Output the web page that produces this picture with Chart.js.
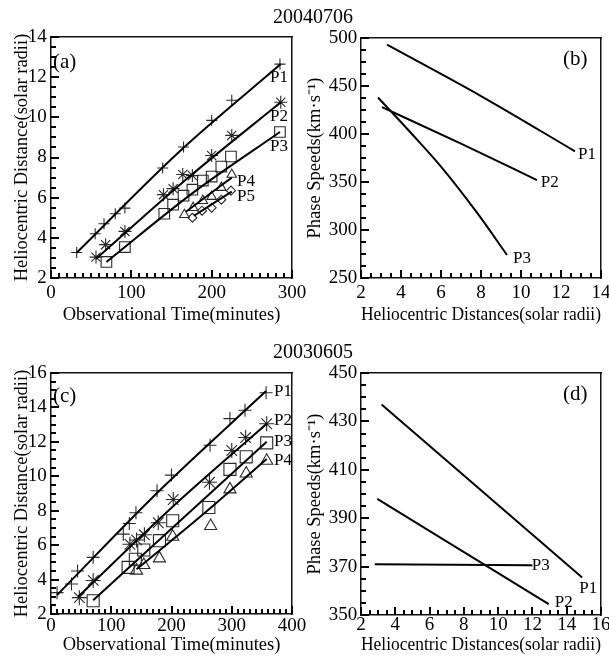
<!DOCTYPE html>
<html><head><meta charset="utf-8">
<script src="https://cdn.jsdelivr.net/npm/chart.js@4"></script>
<style>
html,body{margin:0;padding:0;background:#fff;}
#wrap{position:relative;width:609px;height:662px;overflow:hidden;font-family:"Liberation Serif","Times New Roman",serif;}
canvas{position:absolute;left:0;top:0;}
.t{position:absolute;white-space:nowrap;color:#000;line-height:1;}
</style></head><body>
<div id="wrap">
<canvas id="ca" width="609" height="662"></canvas>
<canvas id="cb" width="609" height="662"></canvas>
<canvas id="cc" width="609" height="662"></canvas>
<canvas id="cd" width="609" height="662"></canvas>
<div class="t" style="left:213px;width:200px;text-align:center;top:6px;font-size:20px">20040706</div>
<div class="t" style="left:213px;width:200px;text-align:center;top:341px;font-size:20px">20030605</div>
<div class="t" style="left:53px;top:51px;font-size:21px">(a)</div>
<div class="t" style="left:563px;top:48px;font-size:21px">(b)</div>
<div class="t" style="left:53px;top:385px;font-size:21px">(c)</div>
<div class="t" style="left:563px;top:383px;font-size:21px">(d)</div>
</div>
<script>
// ---------- Panel (a): 20040706 distance vs time ----------
const A_P1_t = [32, 55, 66, 80, 92, 139, 165, 200, 225, 285];
const A_P1_r = [3.27, 4.2, 4.7, 5.2, 5.48, 7.48, 8.52, 9.85, 10.85, 12.65];
const A_P2_t = [56, 68, 92, 140, 152, 164, 176, 200, 225, 286];
const A_P2_r = [3.04, 3.66, 4.32, 6.15, 6.45, 7.15, 7.1, 8.1, 9.1, 10.75];
const A_P3_t = [69, 92, 141, 152, 165, 176, 189, 200, 212, 224, 285];
const A_P3_r = [2.8, 3.54, 5.2, 5.65, 6.1, 6.4, 6.85, 7.05, 7.55, 8.05, 9.27];
const A_P4_t = [166, 177, 189, 200, 212, 225];
const A_P4_r = [5.15, 5.5, 5.85, 6.05, 6.5, 7.15];
const A_P5_t = [176, 188, 200, 212, 224];
const A_P5_r = [5.0, 5.35, 5.5, 5.9, 6.35];
// fitted curves (a)
const A_F1_t = [32, 160, 286];   const A_F1_r = [3.26, 8.3, 12.65];
const A_F2_t = [56, 171, 286];   const A_F2_r = [2.95, 7.0, 10.75];
const A_F3_t = [69, 177, 285];   const A_F3_r = [2.8, 6.25, 9.27];
const A_F4_t = [168, 225];       const A_F4_r = [5.3, 7.0];
const A_F5_t = [178, 225];       const A_F5_r = [5.1, 6.3];

// ---------- Panel (b): 20040706 speed vs distance ----------
const B_P1_d = [3.3, 8, 12.7];            const B_P1_v = [493, 439.5, 382];
const B_P2_d = [3.05, 7, 10.8];           const B_P2_v = [428, 390, 352];
const B_P3_d = [2.85, 4.5, 6, 7.8, 9.3];  const B_P3_v = [438, 401, 366, 318, 274];

// ---------- Panel (c): 20030605 distance vs time ----------
const C_P1_t = [10, 34, 44, 70, 120, 130, 141, 176, 200, 264, 297, 322, 357];
const C_P1_r = [3.24, 3.74, 4.5, 5.29, 6.64, 7.26, 7.88, 9.16, 10.07, 11.8, 13.35, 13.84, 14.85];
const C_P2_t = [47, 70, 131, 142, 155, 178, 203, 263, 300, 323, 358];
const C_P2_r = [2.95, 3.95, 6.05, 6.3, 6.6, 7.3, 8.65, 9.65, 11.5, 12.25, 13.05];
const C_P3_t = [70, 128, 140, 154, 180, 202, 262, 297, 324, 358];
const C_P3_r = [2.77, 4.71, 5.18, 5.72, 6.26, 7.42, 8.19, 10.4, 11.13, 11.94];
const C_P4_t = [142, 154, 180, 202, 265, 297, 324, 358];
const C_P4_r = [4.52, 4.85, 5.23, 6.49, 7.11, 9.24, 10.16, 10.9];
const C_F1_t = [10, 184, 357];   const C_F1_r = [3.1, 9.3, 14.95];
const C_F2_t = [45, 201, 358];   const C_F2_r = [3.0, 8.2, 13.05];
const C_F3_t = [70, 358];        const C_F3_r = [2.8, 12.0];
const C_F4_t = [142, 250, 358];  const C_F4_r = [4.6, 7.72, 11.0];

// ---------- Panel (d): 20030605 speed vs distance ----------
const D_P1_d = [3.2, 14.9];   const D_P1_v = [437, 365.5];
const D_P2_d = [2.95, 12.95]; const D_P2_v = [398, 354.5];
const D_P3_d = [2.8, 12.0];   const D_P3_v = [371, 370.5];

// tick spacing per panel (major, minor)
const A_X_TICKS = [100, 10]; const A_Y_TICKS = [2, 0.5];
const B_X_TICKS = [2, 0.5];  const B_Y_TICKS = [50, 12.5];
const C_X_TICKS = [100, 10]; const C_Y_TICKS = [2, 0.5];
const D_X_TICKS = [2, 0.5];  const D_Y_TICKS = [20, 5];

const W = 609, H = 662;
const FONT = '"Liberation Serif","Times New Roman",serif';
const pts = (xs, ys) => xs.map((v, i) => ({x: v, y: ys[i]}));

function makeOverlay(labels, xTicks, yTicks) {
  return {
    id: 'overlay',
    afterDraw(chart) {
      const ctx = chart.ctx, a = chart.chartArea, xs = chart.scales.x, ys = chart.scales.y;
      ctx.save();
      // inward major/minor tick marks placed with the chart's scales
      ctx.fillStyle = '#000';
      const run = (scale, step, len, horiz) => {
        const lo = Number(scale.min), hi = Number(scale.max);
        const n = Math.round((hi - lo) / step);
        for (let i = 0; i <= n; i++) {
          const p = Math.round(scale.getPixelForValue(lo + i * step));
          if (horiz) ctx.fillRect(p - 1, a.bottom - len, 2, len);
          else ctx.fillRect(a.left, p - 1, len, 2);
        }
      };
      run(xs, xTicks[1], 5, true);
      run(xs, xTicks[0], 8, true);
      run(ys, yTicks[1], 5, false);
      run(ys, yTicks[0], 8, false);
      // series labels
      ctx.font = '17px ' + FONT;
      ctx.fillStyle = '#000';
      ctx.textAlign = 'left';
      ctx.textBaseline = 'middle';
      labels.forEach(it => ctx.fillText(it.text, xs.getPixelForValue(it.x), ys.getPixelForValue(it.y)));
      ctx.restore();
    }
  };
}

function fix(size, horiz) {
  return s => {
    if (horiz) s.height = size; else s.width = size;
    s.paddingLeft = 0; s.paddingRight = 0; s.paddingTop = 0; s.paddingBottom = 0;
  };
}

function lineDs(xs, ys, tension) {
  return {data: pts(xs, ys), showLine: true, pointRadius: 0, borderColor: '#000', borderWidth: 2,
          tension: tension || 0, cubicInterpolationMode: 'monotone', fill: false};
}
function markDs(xs, ys, style, r) {
  return {data: pts(xs, ys), showLine: false, pointStyle: style, pointRadius: r,
          pointBorderColor: '#2a2a2a', pointBackgroundColor: 'rgba(0,0,0,0)', pointBorderWidth: 1.1};
}

function panel(id, p) {
  const tickFont = {family: FONT, size: 19};
  const titleFont = {family: FONT, size: 18.5};
  const scales = {
    x: {type: 'linear', position: 'bottom', min: p.x.min, max: p.x.max,
        ticks: {stepSize: p.xTicks[0], font: tickFont, color: '#000', padding: p.x.tickPad, maxRotation: 0, autoSkip: false},
        grid: {drawOnChartArea: false, drawTicks: true, tickLength: -5, color: 'rgba(0,0,0,0)', tickColor: 'rgba(0,0,0,0)'},
        border: {display: true, color: '#111', width: 1.5},
        title: {display: true, text: p.x.title, font: titleFont, color: '#000', padding: {top: 0, bottom: p.x.titlePad}},
        afterFit: fix(p.xH, true)},
    xTop: {type: 'linear', position: 'top', min: p.x.min, max: p.x.max,
        ticks: {display: false}, grid: {display: false},
        border: {display: true, color: '#111', width: 1.5}, afterFit: fix(0, true)},
    y: {type: 'linear', position: 'left', min: p.y.min, max: p.y.max,
        ticks: {stepSize: p.yTicks[0], font: tickFont, color: '#000', padding: p.y.tickPad, autoSkip: false},
        grid: {drawOnChartArea: false, drawTicks: true, tickLength: -5, color: 'rgba(0,0,0,0)', tickColor: 'rgba(0,0,0,0)'},
        border: {display: true, color: '#111', width: 1.5},
        title: {display: true, text: p.y.title, font: titleFont, color: '#000', padding: {top: p.y.titlePad, bottom: 0}},
        afterFit: fix(p.yW, false)},
    yRight: {type: 'linear', position: 'right', min: p.y.min, max: p.y.max,
        ticks: {display: false}, grid: {display: false},
        border: {display: true, color: '#111', width: 1.5}, afterFit: fix(0, false)}
  };
  return new Chart(document.getElementById(id), {
    type: 'scatter',
    data: {datasets: p.datasets},
    options: {
      responsive: false, animation: false, devicePixelRatio: 1,
      layout: {padding: {left: p.padLeft, top: p.area.T, right: W - p.area.R, bottom: H - p.area.B - p.xH}},
      scales,
      plugins: {legend: {display: false}, tooltip: {enabled: false}}
    },
    plugins: [makeOverlay(p.labels, p.xTicks, p.yTicks)]
  });
}

panel('ca', {
  area: {T: 37, B: 278, R: 292}, padLeft: 0, yW: 51, xH: 52, xTicks: A_X_TICKS, yTicks: A_Y_TICKS,
  x: {min: 0, max: 300, title: 'Observational Time(minutes)', tickPad: 8.5, titlePad: 4},
  y: {min: 2, max: 14, title: 'Heliocentric Distance(solar radii)', tickPad: 9.3, titlePad: 10.6},
  datasets: [
    lineDs(A_F1_t, A_F1_r, 0.4), lineDs(A_F2_t, A_F2_r, 0.4), lineDs(A_F3_t, A_F3_r, 0.4),
    lineDs(A_F4_t, A_F4_r), lineDs(A_F5_t, A_F5_r),
    markDs(A_P1_t, A_P1_r, 'cross', 5.5), markDs(A_P2_t, A_P2_r, 'star', 6.5),
    markDs(A_P3_t, A_P3_r, 'rect', 7.5), markDs(A_P4_t, A_P4_r, 'triangle', 5.5),
    markDs(A_P5_t, A_P5_r, 'rectRot', 4.5)
  ],
  labels: [{text: 'P1', x: 272.6, y: 11.97}, {text: 'P2', x: 272.6, y: 10.03}, {text: 'P3', x: 272.6, y: 8.53},
           {text: 'P4', x: 231.5, y: 6.8}, {text: 'P5', x: 231.5, y: 6.05}]
});

panel('cb', {
  area: {T: 38, B: 278, R: 601}, padLeft: 300, yW: 61, xH: 52, xTicks: B_X_TICKS, yTicks: B_Y_TICKS,
  x: {min: 2, max: 14, title: 'Heliocentric Distances(solar radii)', tickPad: 8.5, titlePad: 4},
  y: {min: 250, max: 500, title: 'Phase Speeds(km·s⁻¹)', tickPad: 8.7, titlePad: 4},
  datasets: [lineDs(B_P1_d, B_P1_v, 0.4), lineDs(B_P2_d, B_P2_v, 0.4), lineDs(B_P3_d, B_P3_v, 0.4)],
  labels: [{text: 'P1', x: 12.85, y: 379}, {text: 'P2', x: 10.99, y: 349}, {text: 'P3', x: 9.6, y: 270}]
});

panel('cc', {
  area: {T: 373, B: 614, R: 292}, padLeft: 0, yW: 51, xH: 48, xTicks: C_X_TICKS, yTicks: C_Y_TICKS,
  x: {min: 0, max: 400, title: 'Observational Time(minutes)', tickPad: 5.6, titlePad: 6},
  y: {min: 2, max: 16, title: 'Heliocentric Distance(solar radii)', tickPad: 9.3, titlePad: 10.6},
  datasets: [
    lineDs(C_F1_t, C_F1_r, 0.4), lineDs(C_F2_t, C_F2_r, 0.4), lineDs(C_F3_t, C_F3_r),
    lineDs(C_F4_t, C_F4_r, 0.4),
    markDs(C_P1_t, C_P1_r, 'cross', 6.5), markDs(C_P2_t, C_P2_r, 'star', 7.5),
    markDs(C_P3_t, C_P3_r, 'rect', 8.5), markDs(C_P4_t, C_P4_r, 'triangle', 7)
  ],
  labels: [{text: 'P1', x: 370, y: 14.94}, {text: 'P2', x: 370, y: 13.26}, {text: 'P3', x: 370, y: 12.04},
           {text: 'P4', x: 370, y: 10.94}]
});

panel('cd', {
  area: {T: 373, B: 615, R: 601}, padLeft: 300, yW: 61, xH: 47, xTicks: D_X_TICKS, yTicks: D_Y_TICKS,
  x: {min: 2, max: 16, title: 'Heliocentric Distances(solar radii)', tickPad: 4.1, titlePad: 6},
  y: {min: 350, max: 450, title: 'Phase Speeds(km·s⁻¹)', tickPad: 8.7, titlePad: 4},
  datasets: [lineDs(D_P1_d, D_P1_v), lineDs(D_P2_d, D_P2_v), lineDs(D_P3_d, D_P3_v)],
  labels: [{text: 'P1', x: 14.73, y: 360.8}, {text: 'P2', x: 13.3, y: 355.2}, {text: 'P3', x: 11.96, y: 370.6}]
});
</script>
</body></html>
